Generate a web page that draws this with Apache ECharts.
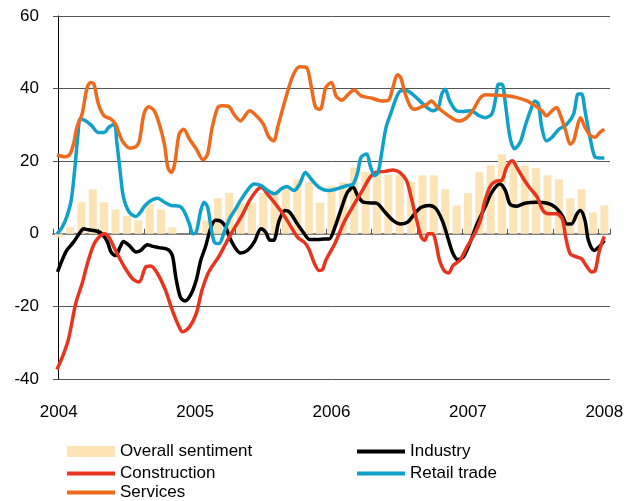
<!DOCTYPE html>
<html>
  <head>
    <meta charset="utf-8" />
    <script src="https://cdn.jsdelivr.net/npm/echarts@6/dist/echarts.min.js"></script>
  </head>
  <body>
    <style>
      html,
      body,
      #main {
        width: 100%;
        height: 100%;
        margin: 0;
      }
    </style>
    <div id="main"></div>
    <script>
      var chart = echarts.init(document.getElementById('main'));

      // monthly categories Jan 2004 .. Jan 2008
      var years = ['2004', '2005', '2006', '2007', '2008'];
      var months = [];
      years.forEach(function (y, i) {
        var n = i < years.length - 1 ? 12 : 1;
        for (var m = 1; m <= n; m++) months.push(y + '-' + (m < 10 ? '0' : '') + m);
      });

      // Overall sentiment (bars, one per month)
      var sentiment = [
        -1, 1.8, 8.7, 12.3, 8.7, 6.7, 4.9, 3.7, 8.3, 6.7, 1.8, 0,
        0, 3.7, 9.8, 11.2, 8.5, 8.6, 11.2, 12, 12.8, 15, 14.3, 8.6,
        13.2, 14.2, 18.3, 17, 17.2, 16.2, 16.2, 14.3, 16.1, 16.1, 12.3, 7.8,
        11.2, 17, 18.9, 21.9, 20, 18.9, 18.1, 16.1, 15, 9.8, 12.3, 5.9,
        7.8
      ];

      // lines: [months since Jan 2004, value]
      var industry = [
        [-0.1, -10.5], [0.3, -7.3], [0.7, -4.6], [1.3, -2.3], [1.8, 0], [2.2, 1.4], [2.6, 1.1],
        [3.4, 0.7], [3.8, 0], [4.3, -2.3], [4.6, -5], [5.0, -6], [5.4, -3.7], [5.7, -2.1],
        [6.2, -3.2], [6.8, -5], [7.2, -4.6], [7.8, -3], [8.2, -3.4], [8.8, -3.8], [9.6, -4.3],
        [10.0, -6], [10.3, -11.9], [10.7, -17.4], [11.1, -18.5], [11.6, -16.9], [12.1, -12.8],
        [12.5, -7.3], [12.9, -3.7], [13.4, 1.8], [13.8, 3.7], [14.3, 3.4], [14.7, 1.8],
        [15.1, -1.4], [15.6, -4.2], [16.0, -5.3], [16.6, -4.6], [17.2, -2.3], [17.8, 1.4],
        [18.2, 0.5], [18.6, -1.8], [18.9, -1.8], [19.4, 3.7], [19.9, 6.4], [20.3, 6],
        [20.9, 3.2], [21.5, 0.5], [22.1, -1.6], [22.8, -1.6], [23.4, -1.4], [23.8, -1.4],
        [24.3, 1.8], [24.9, 7.3], [25.4, 11.4], [25.9, 12.8], [26.3, 10.5], [26.8, 8.7],
        [27.5, 8.5], [27.9, 8.5], [28.7, 6], [29.4, 3.7], [30.1, 2.7], [30.7, 3.2],
        [31.3, 5.5], [31.9, 7.3], [32.6, 7.8], [33.2, 6.9], [33.8, 3.2], [34.3, -1.8],
        [34.7, -5.5], [35.1, -7.1], [35.6, -6.4], [36.2, -2.3], [36.8, 2.7], [37.5, 7.3],
        [38.1, 11.4], [38.8, 13.7], [39.3, 11.9], [39.7, 8.2], [40.3, 7.6], [41.0, 8.4],
        [42.0, 8.7], [43.0, 8.4], [43.7, 7.3], [44.3, 5], [44.7, 2.7], [45.1, 2.7],
        [45.6, 5.5], [45.9, 6.4], [46.3, 3.7], [46.6, -1.8], [47.1, -4.6], [47.5, -3.7],
        [47.8, -2.7], [48.0, -1.8]
      ];

      var construction = [
        [-0.15, -37.4], [0.44, -33], [0.88, -28.8], [1.5, -19.2], [2.06, -13.7], [2.65, -6.9],
        [3.2, -2.3], [4.0, 0], [4.4, -0.9], [5.0, -4.6], [5.7, -8.7], [6.5, -12.4],
        [7.06, -13.3], [7.65, -9.2], [8.1, -8.9], [8.7, -11], [9.4, -15.6], [10.0, -21.1],
        [10.6, -25.7], [10.9, -27], [11.5, -25.7], [12.1, -22], [12.6, -15.6], [13.2, -10.5],
        [14.1, -6.2], [15.0, -0.9], [15.6, 2.3], [16.2, 5.5], [16.8, 9.2], [17.4, 11.9],
        [17.8, 12.8], [18.4, 10.8], [19.3, 7.3], [20.1, 3.7], [21.0, -0.9], [21.6, -2.3],
        [22.0, -4.1], [22.5, -8.2], [22.9, -10.1], [23.2, -9.9], [23.5, -7.3], [24.3, -2.7],
        [25.1, 3.2], [26.0, 8.2], [26.8, 12.4], [27.4, 15.6], [27.9, 16.9], [28.7, 17.2],
        [29.4, 17.6], [30.0, 16.9], [30.6, 14.7], [31.0, 10.1], [31.5, 3.7], [31.9, -0.9],
        [32.2, -1.8], [32.5, 0], [32.9, 0], [33.2, -2.7], [33.5, -7.3], [33.9, -10.1],
        [34.3, -10.8], [34.7, -8.7], [35.3, -7.3], [35.9, -3.7], [36.5, -0.5], [37.1, 3.7],
        [37.5, 9.2], [38.0, 13.3], [38.5, 14.5], [39.0, 14.8], [39.4, 18.3], [39.9, 20.1],
        [40.3, 18.3], [40.9, 15.1], [41.5, 12.4], [42.1, 10.1], [42.6, 6.4], [43.1, 5.5],
        [43.8, 5.5], [44.3, 4.1], [44.6, -0.9], [45.0, -5.5], [45.6, -6.4], [46.0, -6.9],
        [46.5, -9.2], [46.9, -10.5], [47.2, -10.1], [47.5, -5.5], [47.8, -2.3], [48.0, -0.7]
      ];

      var retail = [
        [-0.15, 0], [0.3, 1.8], [0.7, 4.6], [1.1, 9.2], [1.4, 17.4], [1.7, 27.5], [1.9, 31.6],
        [2.4, 31.1], [2.9, 29.8], [3.5, 27.9], [4.0, 27.9], [4.4, 29.3], [4.9, 30.2],
        [5.1, 25.6], [5.4, 17.4], [5.7, 10.1], [6.2, 6], [6.8, 4.8], [7.2, 6], [7.6, 7.8],
        [8.2, 9.3], [8.7, 9.8], [9.3, 8.7], [9.9, 7.8], [10.6, 7.6], [11.0, 6.4], [11.5, 2.7],
        [11.8, 0], [12.1, 0.5], [12.5, 6.4], [12.8, 8.7], [13.1, 7.3], [13.4, 1.8],
        [13.7, -2.3], [14.1, -2.7], [14.6, 0.9], [15.1, 4.6], [15.5, 6.5], [16.0, 9.2],
        [16.8, 12.8], [17.2, 13.7], [17.8, 13.3], [18.4, 11.9], [19.0, 11], [19.6, 12.4],
        [20.1, 13], [20.7, 11.9], [21.2, 13.7], [21.7, 16.9], [22.2, 15.1], [22.9, 12.8],
        [23.7, 11.9], [24.6, 12.5], [25.4, 13.3], [25.9, 13.7], [26.3, 16.9], [26.6, 21.1],
        [27.1, 22], [27.4, 18.8], [27.8, 16], [28.1, 16.9], [28.4, 22], [28.8, 29.3],
        [29.3, 33.9], [29.7, 37.5], [30.1, 39.4], [30.6, 39.4], [31.3, 38], [31.9, 36.2],
        [32.4, 34.8], [32.9, 33.9], [33.4, 34.8], [33.7, 38.5], [34.0, 39.8], [34.4, 36.6],
        [35.0, 33.9], [35.6, 33.7], [36.3, 33.9], [36.9, 32.7], [37.5, 32], [38.1, 33],
        [38.4, 36.6], [38.7, 41.2], [39.0, 41.2], [39.3, 35.7], [39.7, 26.6], [40.1, 23.4],
        [40.6, 25.2], [41.0, 29.3], [41.5, 33.9], [41.9, 36.6], [42.2, 35.7], [42.5, 29.3],
        [42.9, 25.6], [43.4, 26.6], [44.0, 28.8], [44.7, 30.2], [45.3, 33], [45.7, 38.5],
        [46.0, 38.5], [46.3, 33.9], [46.8, 25.6], [47.2, 21.1], [47.6, 20.9], [48.0, 20.9]
      ];

      var services = [
        [-0.15, 21.7], [0.6, 21.2], [1.0, 22], [1.3, 24.7], [1.6, 29.3], [2.06, 33],
        [2.5, 40.3], [2.8, 41.7], [3.1, 41.2], [3.5, 35.7], [4.0, 32.5], [4.6, 31.6],
        [5.0, 30.2], [5.6, 25.6], [6.3, 23.6], [6.8, 24], [7.1, 25.6], [7.5, 33], [7.9, 35],
        [8.4, 33.9], [8.8, 30.7], [9.3, 24.7], [9.6, 18.3], [9.9, 16.9], [10.2, 19.2],
        [10.6, 27.5], [11.0, 28.8], [11.5, 26.1], [12.1, 23.4], [12.7, 20.4], [13.1, 22],
        [13.5, 29.3], [14.0, 34.8], [14.4, 35.3], [15.0, 35], [15.4, 33], [16.0, 31.1],
        [16.8, 33.9], [17.4, 32.5], [18.0, 30.2], [18.5, 26.6], [18.9, 25.6], [19.3, 29.8],
        [19.9, 36.6], [20.6, 43.5], [21.2, 46], [21.8, 45.8], [22.2, 40.8], [22.6, 34.8],
        [23.0, 34.3], [23.5, 40.3], [24.0, 41.7], [24.4, 38], [24.9, 36.8], [25.5, 38.5],
        [26.0, 39.6], [26.6, 38], [27.5, 37.4], [28.4, 36.6], [29.0, 36.8], [29.4, 40.3],
        [29.8, 43.8], [30.1, 43], [30.4, 39.4], [30.9, 35.3], [31.3, 34.3], [31.8, 34.8],
        [32.4, 35.7], [32.8, 36.6], [33.2, 35.3], [33.7, 33.9], [34.3, 32.5], [34.9, 31.3],
        [35.3, 31.1], [35.9, 32], [36.5, 34.3], [37.1, 37.5], [37.6, 38.3], [38.5, 38.2],
        [39.4, 38], [40.3, 37.5], [41.2, 36.6], [41.9, 35.3], [42.5, 33.9], [42.9, 32.5],
        [43.4, 33.9], [43.8, 34.8], [44.1, 33], [44.6, 28.4], [45.0, 24.7], [45.3, 25.6],
        [45.6, 29.3], [45.9, 32], [46.3, 29.3], [46.8, 27], [47.2, 26.6], [47.6, 27.9],
        [48.0, 28.8]
      ];

      var font = 'Liberation Sans';
      var lineW = 3.5;

      function lineSeries(name, data, color) {
        return {
          name: name,
          type: 'line',
          xAxisIndex: 2,
          data: data,
          showSymbol: false,
          symbol: 'none',
          smooth: 0.3,
          lineStyle: { color: color, width: lineW },
          itemStyle: { color: color }
        };
      }

      function legendBox(left, top, items) {
        return {
          left: left,
          top: top,
          orient: 'vertical',
          padding: 0,
          itemWidth: 48,
          itemHeight: 11,
          itemGap: 3,
          itemStyle: { opacity: 0 },
          lineStyle: { width: 4 },
          textStyle: { fontFamily: font, fontSize: 17, lineHeight: 19, color: '#000' },
          data: items
        };
      }

      var option = {
        animation: false,
        grid: { left: 53, right: 22, top: 16, bottom: 122 },
        legend: [
          legendBox(65, 442, [
            { name: 'Overall sentiment', icon: 'rect', itemStyle: { opacity: 1 } },
            'Construction'
          ]),
          legendBox(65, 483, ['Services']),
          legendBox(355, 442, ['Industry', 'Retail trade'])
        ],
        xAxis: [
          {
            type: 'category',
            data: months,
            position: 'bottom',
            axisLine: { show: false, onZero: false },
            axisTick: { show: false },
            axisLabel: {
              interval: 11,
              margin: 25,
              fontFamily: font,
              fontSize: 17,
              color: '#000',
              formatter: function (v) { return v.slice(0, 4); }
            },
            splitLine: { show: false }
          },
          {
            type: 'category',
            data: months,
            axisLine: { show: true, onZero: true, lineStyle: { color: '#808080', width: 2 } },
            axisTick: { show: true, interval: 3, length: 5, lineStyle: { color: '#555' } },
            axisLabel: { show: false },
            splitLine: { show: false }
          },
          {
            type: 'value',
            min: -0.5,
            max: 48.5,
            show: false
          }
        ],
        yAxis: {
          type: 'value',
          min: -40,
          max: 60,
          interval: 20,
          axisLine: { show: true, lineStyle: { color: '#000', width: 1 } },
          axisTick: { show: true, length: 5, lineStyle: { color: '#555' } },
          axisLabel: { fontFamily: font, fontSize: 17, color: '#000', margin: 14 },
          splitLine: { show: true, lineStyle: { color: '#555', width: 1 } }
        },
        series: [
          {
            name: 'Overall sentiment',
            type: 'bar',
            xAxisIndex: 0,
            data: sentiment,
            barWidth: 8,
            itemStyle: { color: '#FCE4B6' }
          },
          lineSeries('Industry', industry, '#000000'),
          lineSeries('Construction', construction, '#E8341F'),
          lineSeries('Retail trade', retail, '#0FA1C9'),
          lineSeries('Services', services, '#EE6A1C')
        ]
      };

      chart.setOption(option);

      window.onresize = function () {
        chart.resize();
      };
    </script>
  </body>
</html>
